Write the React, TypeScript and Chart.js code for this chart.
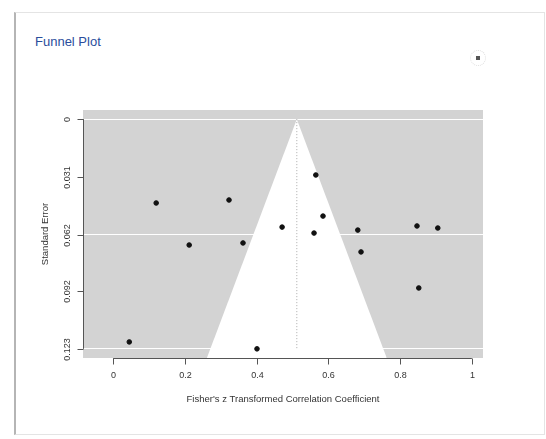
import React, { useEffect, useRef } from "react";
import { Chart, registerables } from "chart.js";

Chart.register(...registerables);

// Study effect sizes (Fisher's z) and their standard errors
const studyEffect = [0.12, 0.323, 0.565, 0.585, 0.471, 0.56, 0.682, 0.847, 0.905, 0.212, 0.362, 0.691, 0.852, 0.045, 0.401];
const studySE = [0.0449, 0.0433, 0.0299, 0.0519, 0.0578, 0.061, 0.0594, 0.0572, 0.0583, 0.0674, 0.0663, 0.0711, 0.0904, 0.1193, 0.123];
const pooledEstimate = 0.512;

const xTicks = [0, 0.2, 0.4, 0.6, 0.8, 1];
const xTickLabels = ["0", "0.2", "0.4", "0.6", "0.8", "1"];
const yTicks = [0, 0.031, 0.062, 0.092, 0.123];
const yTickLabels = ["0", "0.031", "0.062", "0.092", "0.123"];
const xRange = [-0.084, 1.031];
const yRange = [-0.0049, 0.1279];

const xTitle = "Fisher's z Transformed Correlation Coefficient";
const yTitle = "Standard Error";
const chartTitle = "Funnel Plot";

const FONT = "'Liberation Sans', Arial, sans-serif";

const rAxesPlugin = {
  id: "rAxes",
  beforeDraw(chart: any) {
    const { ctx, chartArea: a } = chart;
    ctx.save();
    ctx.fillStyle = "#d3d3d3";
    ctx.fillRect(a.left, a.top, a.right - a.left, a.bottom - a.top);
    ctx.restore();
  },
  afterDraw(chart: any) {
    const { ctx, chartArea: a, scales } = chart;
    const xs = scales.x;
    const ys = scales.y;
    ctx.save();
    ctx.strokeStyle = "#555";
    ctx.lineWidth = 1;
    ctx.fillStyle = "#333";

    // y axis
    const yA = ys.getPixelForValue(yTicks[0]);
    const yB = ys.getPixelForValue(yTicks[yTicks.length - 1]);
    const ax = Math.round(a.left) + 0.5;
    ctx.beginPath();
    ctx.moveTo(ax, yA);
    ctx.lineTo(ax, yB);
    ctx.stroke();
    ctx.font = `9px ${FONT}`;
    yTicks.forEach((v, i) => {
      const py = Math.round(ys.getPixelForValue(v)) + 0.5;
      ctx.beginPath();
      ctx.moveTo(ax - 6, py);
      ctx.lineTo(ax, py);
      ctx.stroke();
      ctx.save();
      ctx.translate(a.left - 15, py);
      ctx.rotate(-Math.PI / 2);
      ctx.textAlign = "center";
      ctx.textBaseline = "middle";
      ctx.fillText(yTickLabels[i], 0, 0);
      ctx.restore();
    });

    // x axis
    const xA = xs.getPixelForValue(xTicks[0]);
    const xB = xs.getPixelForValue(xTicks[xTicks.length - 1]);
    const by = Math.round(a.bottom) + 0.5;
    ctx.beginPath();
    ctx.moveTo(xA, by);
    ctx.lineTo(xB, by);
    ctx.stroke();
    ctx.textAlign = "center";
    ctx.textBaseline = "middle";
    xTicks.forEach((v, i) => {
      const px = Math.round(xs.getPixelForValue(v)) + 0.5;
      ctx.beginPath();
      ctx.moveTo(px, by);
      ctx.lineTo(px, by + 6);
      ctx.stroke();
      ctx.fillText(xTickLabels[i], px, a.bottom + 18);
    });

    // titles
    ctx.font = `9.5px ${FONT}`;
    ctx.fillText(xTitle, (a.left + a.right) / 2, a.bottom + 41);
    ctx.save();
    ctx.translate(a.left - 38, (a.top + a.bottom) / 2);
    ctx.rotate(-Math.PI / 2);
    ctx.fillText(yTitle, 0, 0);
    ctx.restore();
    ctx.restore();
  },
};

export default function App() {
  const canvasRef = useRef<HTMLCanvasElement | null>(null);

  useEffect(() => {
    if (!canvasRef.current) return;
    const yBottom = yRange[1];
    const halfW = 1.96 * yBottom;
    const funnel = [
      { x: pooledEstimate - halfW, y: yBottom },
      { x: pooledEstimate, y: 0 },
      { x: pooledEstimate + halfW, y: yBottom },
    ];
    const refline = [
      { x: pooledEstimate, y: yTicks[0] },
      { x: pooledEstimate, y: yTicks[yTicks.length - 1] },
    ];
    const points = studyEffect.map((x, i) => ({ x, y: studySE[i] }));

    const chart = new Chart(canvasRef.current, {
      type: "scatter",
      data: {
        datasets: [
          {
            type: "scatter",
            data: points,
            backgroundColor: "#111",
            borderColor: "#111",
            pointRadius: 2.3,
            pointStyle: "circle",
            order: 0,
          },
          {
            type: "line",
            data: refline,
            borderColor: "#aaa",
            borderWidth: 1,
            borderDash: [1, 2],
            pointRadius: 0,
            fill: false,
            order: 1,
          },
          {
            type: "line",
            data: funnel,
            borderColor: "#ffffff",
            borderWidth: 0,
            backgroundColor: "#ffffff",
            pointRadius: 0,
            tension: 0,
            fill: { value: yBottom },
            order: 2,
          },
        ] as any,
      },
      options: {
        animation: false,
        responsive: false,
        events: [],
        layout: { padding: { left: 83, top: 110, right: 63, bottom: 81 } },
        plugins: {
          legend: { display: false },
          tooltip: { enabled: false },
          title: { display: false },
        },
        scales: {
          x: {
            type: "linear",
            display: false,
            min: xRange[0],
            max: xRange[1],
          },
          y: {
            type: "linear",
            reverse: true,
            min: yRange[0],
            max: yRange[1],
            afterBuildTicks: (s: any) => {
              s.ticks = yTicks.map((v) => ({ value: v }));
            },
            afterFit: (s: any) => {
              s.width = 0;
            },
            ticks: { display: false },
            border: { display: false },
            grid: {
              drawTicks: false,
              lineWidth: 1,
              color: (c: any) => (c.index % 2 === 0 ? "#ffffff" : "rgba(0,0,0,0)"),
            },
          },
        },
      } as any,
      plugins: [rAxesPlugin],
    });
    return () => chart.destroy();
  }, []);

  return (
    <div style={{ position: "fixed", left: 0, top: 0, width: 546, height: 439, background: "#fff" }}>
      <div
        style={{
          position: "absolute",
          left: 14,
          top: 12,
          width: 531,
          height: 423,
          borderTop: "1px solid #e4e4e4",
          borderRight: "1px solid #e4e4e4",
          borderBottom: "1px solid #e4e4e4",
          borderLeft: "2px solid #b5b5b5",
          boxSizing: "border-box",
        }}
      />
      <div
        style={{
          position: "absolute",
          left: 35,
          top: 34,
          fontFamily: FONT,
          fontSize: 13,
          color: "#2a4d9c",
          lineHeight: "16px",
          whiteSpace: "nowrap",
        }}
      >
        {chartTitle}
      </div>
      <div
        style={{
          position: "absolute",
          left: 470,
          top: 50,
          width: 16,
          height: 16,
          borderRadius: 8,
          border: "1px dotted #ddd",
          boxSizing: "border-box",
        }}
      >
        <div style={{ position: "absolute", left: 5, top: 5, width: 4, height: 4, background: "#555" }} />
      </div>
      <canvas
        ref={canvasRef}
        width={546}
        height={439}
        style={{ position: "absolute", left: 0, top: 0, width: 546, height: 439 }}
      />
    </div>
  );
}
